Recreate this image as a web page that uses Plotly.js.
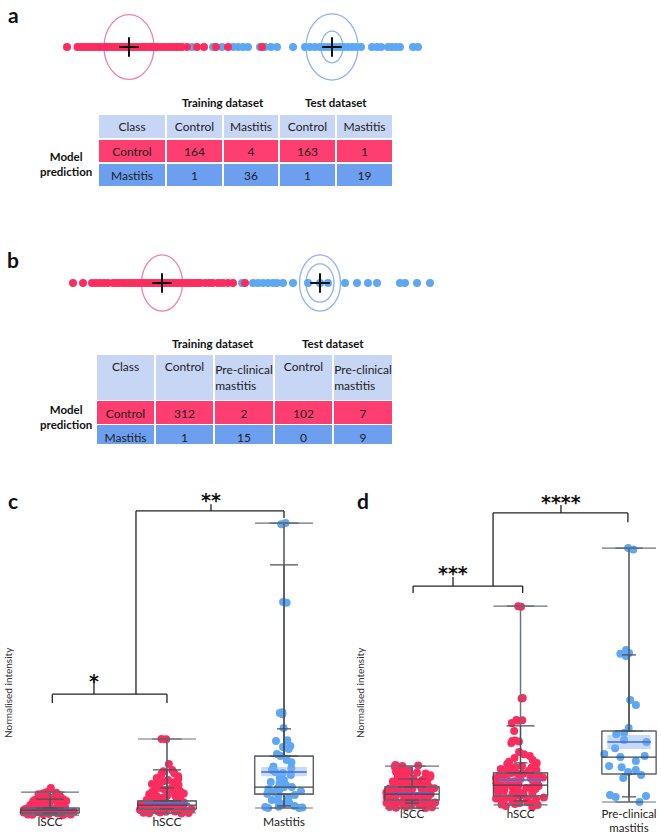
<!DOCTYPE html>
<html>
<head>
<meta charset="utf-8">
<script src="https://cdn.plot.ly/plotly-3.0.1.min.js"></script>
<style>html,body{margin:0;padding:0;background:#fff}#chart{width:661px;height:837px}</style>
</head>
<body>
<div id="chart"></div>
<script>
// ---------------- Panel a : 1-D discriminant scores ----------------
const aControlScores = [-6.52,-6.1,-5.95,-5.82,-5.7,-5.58,-5.44,-5.3,-5.17,-5.02,-4.9,-4.78,-4.66,-4.55,-4.42,-4.3,-4.2,-4.08,-3.98,-3.86,-3.76,-3.64,-3.52,-3.42,-3.3,-3.2,-3.08,-2.98,-2.88,-2.72,-2.58,-2.44,-2.3,-2.16,-2.04,-1.92,-1.72,-1.32,-1.04,-0.56,-0.08,1.28];
const aMastitisScores = [-1.52,-0.68,-0.32,0.12,0.32,0.52,0.72,1.2,1.4,1.64,1.88,2.52,3.0,3.2,3.4,3.6,3.76,3.92,4.08,4.24,4.4,4.56,4.72,4.88,5.04,5.24,5.68,5.88,6.04,6.32,6.48,6.64,6.8,7.32,7.52];
const aCentroids = [-4.04, 4.08];
const aRingCentre = [-4.04, 4.08, 4.08];
const aRingRx = [1.0, 1.04, 0.44];
const aRingRy = [0.98, 1.0, 0.48];
const aRingGroup = ['Control','Mastitis','Mastitis'];
const aHeader = ['Class','Control','Mastitis','Control','Mastitis'];
const aRowClass = ['Control','Mastitis'];
const aTrainControl = [164, 1];
const aTrainMastitis = [4, 36];
const aTestControl = [163, 1];
const aTestMastitis = [1, 19];

// ---------------- Panel b ----------------
const bControlScores = [-6.28,-5.88,-5.52,-5.36,-5.2,-5.04,-4.88,-4.68,-4.55,-4.44,-4.3,-4.18,-4.06,-3.94,-3.82,-3.7,-3.58,-3.46,-3.34,-3.22,-3.1,-2.98,-2.86,-2.74,-2.62,-2.5,-2.38,-2.26,-2.14,-2.02,-1.9,-1.78,-1.66,-1.54,-1.42,-1.3,-1.2,-1.0,-0.8,-0.68,-0.48,-0.28,-0.08,0.12,0.6];
const bMastitisScores = [-1.2,-0.88,-0.4,0.48,0.92,1.12,1.32,1.52,1.72,1.88,2.12,2.52,3.12,3.6,3.92,4.6,5.08,5.52,5.88,6.8,7.0,7.48,8.0];
const bCentroids = [-2.72, 3.6];
const bRingCentre = [-2.72, 3.6, 3.6];
const bRingRx = [0.82, 0.82, 0.56];
const bRingRy = [0.85, 0.85, 0.58];
const bRingGroup = ['Control','Mastitis','Mastitis'];
const bHeader = ['Class','Control','Pre-clinical<br>mastitis','Control','Pre-clinical<br>mastitis'];
const bRowClass = ['Control','Mastitis'];
const bTrainControl = [312, 1];
const bTrainPre = [2, 15];
const bTestControl = [102, 0];
const bTestPre = [7, 9];

// ---------------- Panel c : normalised intensity ----------------
const cCategories = ['lSCC','hSCC','Mastitis'];
const cLSCC = [10.2,8.8,3.6,8.6,2.2,8.4,1.4,8.1,7.8,3.0,7.6,7.3,2.6,7.1,6.9,1.2,6.8,6.4,4.1,6.1,5.9,1.9,5.8,5.5,5.4,2.4,5.2,5.1,4.9,1.6,4.7,4.6,3.3,4.4,4.3,1.0,4.0,3.9,2.8,3.7,3.5,3.4,1.3,3.2,3.1,2.9,2.7,1.8,2.5,2.3,2.1,2.0,1.7,1.5,1.1,3.8,2.6,2.2,1.9,4.5,3.3,1.6,2.9,5.6,6.6,7.7,1.2,2.4,3.0,1.4];
const cHSCC = [26.8,26.7,18.3,16.3,15.9,15.2,14.9,14.2,13.6,13.2,12.9,12.5,12.2,11.9,11.5,11.2,10.8,10.5,10.2,9.8,9.5,9.2,8.8,8.6,8.3,8.1,7.8,7.5,7.3,7.1,6.8,6.6,6.4,6.1,5.9,5.8,5.6,5.4,5.2,5.1,4.9,4.8,4.6,4.5,4.4,4.2,4.1,3.9,3.8,3.7,3.5,3.4,3.3,3.1,3.0,2.9,2.7,2.6,2.4,2.3,2.1,2.0,1.8,1.7,1.5,4.7,3.6,5.3,2.8,6.9,9.0,11.0,4.3,3.2,2.5,1.9,3.9,5.0,2.2,1.6];
const cMastitis = [100,99.6,73.2,73.0,35.6,35.9,35.2,30.5,26.1,26.4,24.4,24.1,23.4,21.7,21.0,19.7,18.9,16.9,16.3,15.6,15.3,14.6,13.6,12.9,11.9,11.2,10.5,10.4,10.2,9.8,9.5,8.8,8.2,7.8,7.5,6.8,6.1,5.1,4.7,4.1,3.7,3.6,3.4,3.4,3.8,12.2,17.5,9.1,5.6];
const cQ1 = [1.7, 3.1, 8.1];
const cMedian = [2.7, 4.4, 10.5];
const cQ3 = [3.4, 5.8, 21.0];
const cLowerFence = [1.0, 1.7, 3.4];
const cUpperFence = [8.8, 26.8, 100];
const cMean = [2.9, 4.9, 15.6];
const cMeanLo = [2.6, 4.5, 14.2];
const cMeanHi = [3.2, 5.3, 17.3];
const cCapAHi = [6.4, 16.3, 85.8];
const cCapBHi = [null, 10.2, 30.2];
const cCapBLo = [null, null, 4.1];

// ---------------- Panel d ----------------
const dCategories = ['lSCC','hSCC','Pre-clinical<br>mastitis'];
const dLSCC = [17.4,17.6,17.2,17.8,16.9,16.5,16.1,15.8,15.3,15.0,14.6,14.2,13.9,13.5,13.2,12.8,12.5,12.1,11.8,11.4,11.1,10.8,10.5,10.2,9.9,9.6,9.3,9.1,8.8,8.5,8.3,8.0,7.8,7.5,7.3,7.0,6.8,6.6,6.3,6.1,5.9,5.7,5.4,5.2,5.0,4.8,4.6,4.4,4.2,4.0,3.8,3.6,3.4,3.2,3.0,2.8,2.6,2.4,2.2,2.0,1.8,1.6,1.5,6.9,7.4,5.6,8.7,9.7,4.9,6.2,7.1,10.9,5.3,3.9,8.2,12.3,2.9,6.5,7.7,4.3,9.0,11.6,5.8,3.5,13.7,14.9,2.5,1.9];
const dHSCC = [78,77.8,43.2,43.0,34.8,34.6,34.9,33.7,30.7,26.9,27.1,26.7,26.1,22.7,21.9,21.2,20.5,19.7,19.0,18.6,18.2,17.8,17.4,17.0,16.7,16.3,15.9,15.5,15.2,14.8,14.4,14.0,13.6,13.3,12.9,12.5,12.1,11.7,11.4,11.0,10.6,10.2,9.8,9.5,9.1,8.7,8.3,8.0,7.6,7.2,6.8,6.4,6.1,5.7,5.3,4.9,4.5,4.2,3.8,3.4,3.0,2.7,2.3,1.9,12.3,9.9,7.0,5.1,13.1,10.8,8.5,6.2,4.0,14.6,11.2,3.2,15.7,2.8,9.3,7.8,6.6,5.5,4.7,16.9,12.7,10.4,8.9,7.4,13.8,6.0,11.9,9.6];
const dPre = [100,99.5,61.4,60.2,60.0,59.1,42.4,40.5,31.8,29.9,29.5,26.5,24.2,21.2,20.8,19.3,17.4,17.0,15.9,15.2,14.0,12.9,6.4,6.1,5.7,3.8,27.3,22.0];
const dQ1 = [4.5, 6.1, 14.4];
const dMedian = [6.8, 10.2, 20.8];
const dQ3 = [9.5, 14.8, 30.7];
const dLowerFence = [1.5, 2.7, 3.8];
const dUpperFence = [17.4, 78, 100];
const dMean = [7.2, 12.1, 26.5];
const dMeanLo = [6.9, 11.6, 23.9];
const dMeanHi = [7.5, 12.6, 29.2];
const dCapAHi = [12.5, 32.6, null];
const dCapBHi = [null, 18.6, 59.5];
const dCapBLo = [3.4, 4.2, 5.7];

// ---------------- styling ----------------
const RED = '#fc2d5e', BLUE = '#5ea7f5';
const PINKRING = '#f07fb2', BLUERING = '#8db3ef';
const ROWRED = '#fe3e70', ROWBLUE = '#6d9ff0', HEAD = '#c8d6f6';
const BOXLINE = '#40464d', MEANCOL = '#3b6ed6', BAND = 'rgba(130,175,240,0.45)';
const FONT = 'Lato, "Open Sans", sans-serif';
const STARFONT = '"DejaVu Sans", sans-serif';
const W = 661, H = 837;
const px = v => v / W, py = v => 1 - v / H;

const traces = [];
const shapes = [];
const annotations = [];

// strips
function strip(ctrl, mast, cents, ringC, ringRx, ringRy, ringG, xa, ya) {
  traces.push({type:'scatter', mode:'markers', x: mast, y: mast.map(()=>0), xaxis:xa, yaxis:ya,
    marker:{color:BLUE, size:8}, hoverinfo:'skip', showlegend:false});
  traces.push({type:'scatter', mode:'markers', x: ctrl, y: ctrl.map(()=>0), xaxis:xa, yaxis:ya,
    marker:{color:RED, size:8}, hoverinfo:'skip', showlegend:false});
  traces.push({type:'scatter', mode:'markers', x: cents, y: cents.map(()=>0), xaxis:xa, yaxis:ya,
    marker:{symbol:'cross-thin', size:14, line:{color:'#111', width:2}}, hoverinfo:'skip', showlegend:false});
  ringC.forEach((c,i) => shapes.push({type:'circle', xref:xa, yref:ya,
    x0:c-ringRx[i], x1:c+ringRx[i], y0:-ringRy[i], y1:ringRy[i],
    line:{color: ringG[i]==='Control'?PINKRING:BLUERING, width:1.3}, layer:'below'}));
}
strip(aControlScores, aMastitisScores, aCentroids, aRingCentre, aRingRx, aRingRy, aRingGroup, 'x', 'y');
strip(bControlScores, bMastitisScores, bCentroids, bRingCentre, bRingRx, bRingRy, bRingGroup, 'x2', 'y2');

// tables
function table(header, rows, cols, colW, x0, x1, y0, y1, hh) {
  const rowFill = rows.map((r,i)=> i===0?ROWRED:ROWBLUE);
  traces.push({type:'table', domain:{x:[px(x0), px(x1)], y:[py(y1), py(y0)]},
    columnwidth: colW,
    header:{values: header, fill:{color:HEAD}, line:{color:'#ffffff', width:1.5}, height: hh,
      align:'center', font:{family:FONT, size:12, color:'#1c1c1c'}},
    cells:{values: [rows].concat(cols), fill:{color: [rowFill].concat(cols.map(()=>rowFill))},
      line:{color:'#ffffff', width:1.5}, height: 24, align:'center',
      font:{family:FONT, size:12, color:'#1c1c1c'}}});
}
table(aHeader, aRowClass, [aTrainControl, aTrainMastitis, aTestControl, aTestMastitis], [68,57,56,57,57], 98, 393, 114, 192, 25);
table(bHeader, bRowClass, [bTrainControl, bTrainPre, bTestControl, bTestPre], [59,59,60,59,60], 96, 393, 354, 445, 39);

// box panels
function boxPanel(cats, groups, colors, q1, med, q3, lf, uf, mean, mlo, mhi, capAHi, capBHi, capBLo, xa, ya, boxW, bandW, capHalf) {
  groups.forEach((g,i) => traces.push({type:'box', y:g, x:g.map(()=>cats[i]), xaxis:xa, yaxis:ya,
    boxpoints:'all', jitter:1, pointpos:0, width:boxW, line:{width:0, color:'rgba(0,0,0,0)'},
    fillcolor:'rgba(0,0,0,0)', marker:{color:colors[i], size:8, opacity:1}, hoverinfo:'skip', showlegend:false}));
  traces.push({type:'box', x:cats, q1:mlo, median:mean, q3:mhi, lowerfence:mlo, upperfence:mhi,
    xaxis:xa, yaxis:ya, boxpoints:false, width:bandW, fillcolor:BAND, line:{width:0, color:'rgba(0,0,0,0)'}, hoverinfo:'skip', showlegend:false});
  traces.push({type:'box', x:cats, q1:mean, median:mean, q3:mean, lowerfence:mean, upperfence:mean,
    xaxis:xa, yaxis:ya, boxpoints:false, width:bandW, fillcolor:'rgba(0,0,0,0)', line:{width:1.6, color:MEANCOL}, hoverinfo:'skip', showlegend:false});
  traces.push({type:'box', x:cats, q1:q1, median:med, q3:q3, lowerfence:lf, upperfence:uf,
    xaxis:xa, yaxis:ya, boxpoints:false, width:boxW, fillcolor:'rgba(0,0,0,0)', line:{width:1.2, color:BOXLINE}, hoverinfo:'skip', showlegend:false});
  const capTrace = (ybase, up, down, half, col) => ({type:'scatter', mode:'markers', x:cats, y:ybase, xaxis:xa, yaxis:ya,
    marker:{size:1, color:'rgba(0,0,0,0)'}, hoverinfo:'skip', showlegend:false,
    error_y:{type:'data', symmetric:false, array:up, arrayminus:down, width:half, thickness:1.2, color:col}});
  traces.push(capTrace(q3, uf.map((v,i)=>v-q3[i]), uf.map(()=>0), capHalf, '#6a737c'));
  traces.push(capTrace(q1, lf.map(()=>0), lf.map((v,i)=>q1[i]-v), capHalf, '#6a737c'));
  traces.push(capTrace(q3, capAHi.map((v,i)=> v==null?null:v-q3[i]), capAHi.map(v=> v==null?null:0), 14, '#4a5158'));
  traces.push(capTrace(q3, capBHi.map((v,i)=> v==null?null:v-q3[i]), capBHi.map(v=> v==null?null:0), 7, '#4a5158'));
  traces.push(capTrace(q1, capBLo.map(v=> v==null?null:0), capBLo.map((v,i)=> v==null?null:q1[i]-v), 7, '#4a5158'));
}
boxPanel(cCategories, [cLSCC, cHSCC, cMastitis], [RED, RED, BLUE], cQ1, cMedian, cQ3, cLowerFence, cUpperFence, cMean, cMeanLo, cMeanHi, cCapAHi, cCapBHi, cCapBLo, 'x3', 'y3', 0.5, 0.39, 29);
boxPanel(dCategories, [dLSCC, dHSCC, dPre], [RED, RED, BLUE], dQ1, dMedian, dQ3, dLowerFence, dUpperFence, dMean, dMeanLo, dMeanHi, dCapAHi, dCapBHi, dCapBLo, 'x4', 'y4', 0.5, 0.4, 27);

// significance brackets: [x0, x1, tick x, level, leftLegBottom, rightLegBottom, tickTop, label, labelY]
const cBrackets = [[0.02, 1.0, 0.376, 42.0, 39.0, 39.0, 46.8, '*', 46.6],
                   [0.735, 2.0, 1.376, 104.1, 42.0, 101.7, 106.4, '**', 107.9]];
const dBrackets = [[0.01, 1.02, 0.378, 85.6, 83.0, 83.0, 89.0, '***', 90.6],
                   [0.747, 1.99, 1.373, 113.3, 85.6, 109.8, 116.3, '****', 117.6]];
function brackets(list, xa, ya) {
  const L = {color:'#222', width:1.3};
  list.forEach(b => {
    shapes.push({type:'line', xref:xa, yref:ya, x0:b[0], x1:b[1], y0:b[3], y1:b[3], line:L});
    shapes.push({type:'line', xref:xa, yref:ya, x0:b[0], x1:b[0], y0:b[3], y1:b[4], line:L});
    shapes.push({type:'line', xref:xa, yref:ya, x0:b[1], x1:b[1], y0:b[3], y1:b[5], line:L});
    shapes.push({type:'line', xref:xa, yref:ya, x0:b[2], x1:b[2], y0:b[3], y1:b[6], line:L});
    annotations.push({xref:xa, yref:ya, x:b[2], y:b[8], text:b[7], showarrow:false, xanchor:'center', yanchor:'middle',
      font:{family:STARFONT, size:19, color:'#111', weight:'bold'}});
  });
}
brackets(cBrackets, 'x3', 'y3');
brackets(dBrackets, 'x4', 'y4');

// text labels
const bold = (t,x,y,size) => ({xref:'paper', yref:'paper', x:px(x), y:py(y), text:t, showarrow:false,
  xanchor:'center', yanchor:'middle', font:{family:FONT, size:size, color:'#111', weight:'bold'}});
annotations.push(bold('a', 13, 14, 21));
annotations.push(bold('b', 13, 259, 21));
annotations.push(bold('c', 13, 500, 21));
annotations.push(bold('d', 363, 500, 21));
annotations.push(bold('Training dataset', 223, 103, 11.5));
annotations.push(bold('Test dataset', 336, 103, 11.5));
annotations.push(bold('Model<br>prediction', 66, 164, 11.5));
annotations.push(bold('Training dataset', 213, 343, 11.5));
annotations.push(bold('Test dataset', 333, 343, 11.5));
annotations.push(bold('Model<br>prediction', 66, 417, 11.5));
annotations.push({xref:'paper', yref:'paper', x:px(8), y:py(693), text:'Normalised intensity', textangle:-90, showarrow:false,
  xanchor:'center', yanchor:'middle', font:{family:FONT, size:10, color:'#333'}});
annotations.push({xref:'paper', yref:'paper', x:px(360), y:py(693), text:'Normalised intensity', textangle:-90, showarrow:false,
  xanchor:'center', yanchor:'middle', font:{family:FONT, size:10, color:'#333'}});

const hidden = {visible:false, fixedrange:true};
const layout = {
  width:W, height:H, margin:{l:0, r:0, t:0, b:0}, paper_bgcolor:'#fff', plot_bgcolor:'rgba(0,0,0,0)',
  showlegend:false, boxmode:'overlay', font:{family:FONT},
  xaxis: Object.assign({domain:[0,1], range:[-9.2, 17.24], anchor:'y'}, hidden),
  yaxis: Object.assign({domain:[py(90), py(4)], range:[-1.3, 1.3], anchor:'x'}, hidden),
  xaxis2: Object.assign({domain:[0,1], range:[-9.2, 17.24], anchor:'y2'}, hidden),
  yaxis2: Object.assign({domain:[py(326), py(240)], range:[-1.3, 1.3], anchor:'x2'}, hidden),
  xaxis3: {domain:[0, px(330)], range:[-0.427, 2.393], type:'category', categoryarray:cCategories, categoryorder:'array',
    anchor:'free', position:py(813), showline:false, showgrid:false, zeroline:false, ticks:'',
    tickfont:{family:FONT, size:12, color:'#222'}, fixedrange:true},
  yaxis3: Object.assign({domain:[py(826), py(490)], range:[-2.7, 111.2], anchor:'x3'}, hidden),
  xaxis4: {domain:[px(330), 1], range:[-0.756, 2.295], type:'category', categoryarray:dCategories, categoryorder:'array',
    anchor:'free', position:py(805), showline:false, showgrid:false, zeroline:false, ticks:'',
    tickfont:{family:FONT, size:11.5, color:'#222'}, fixedrange:true},
  yaxis4: Object.assign({domain:[py(826), py(490)], range:[-5.3, 122], anchor:'x4'}, hidden),
  shapes: shapes, annotations: annotations
};
Plotly.newPlot('chart', traces, layout, {displayModeBar:false, staticPlot:true});
</script>
</body>
</html>
